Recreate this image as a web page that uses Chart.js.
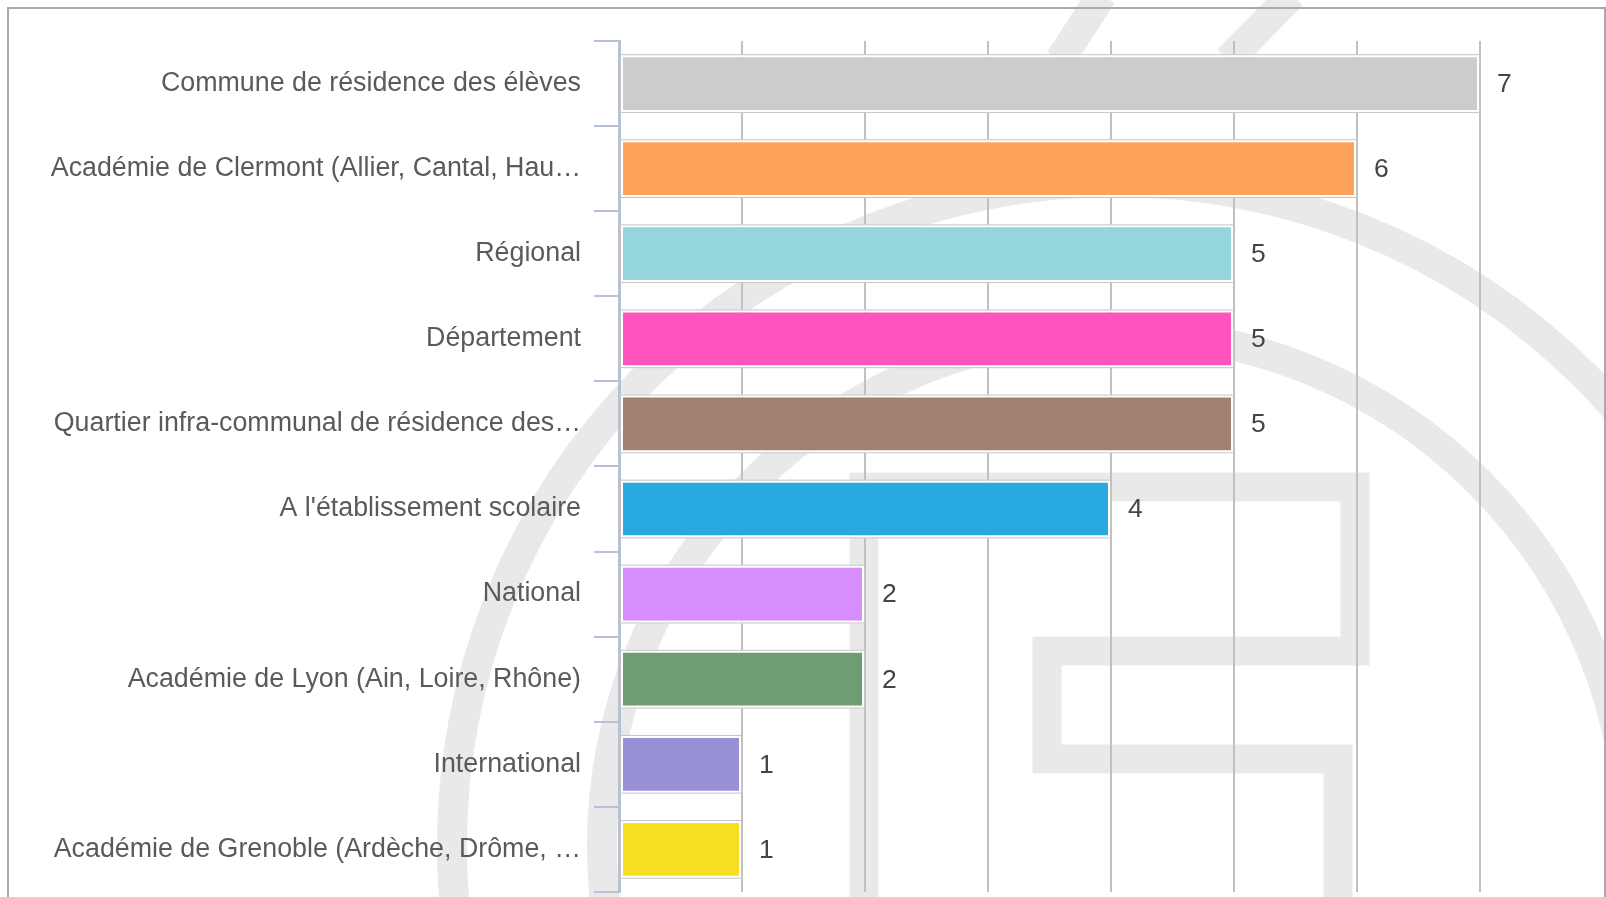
<!DOCTYPE html>
<html lang="fr">
  <head>
    <meta charset="UTF-8" />
    <title>Échelle territoriale</title>
    <script src="https://cdn.jsdelivr.net/npm/chart.js"></script>
    <style>
      body {
        margin: 0;
        background: #fff;
        overflow: hidden;
      }
      #wrap {
        width: 1606px;
        height: 921px;
      }
    </style>
  </head>
  <body>
    <div id="wrap"><canvas id="chart"></canvas></div>
    <script>
      const categories = [
        "Commune de résidence des élèves",
        "Académie de Clermont (Allier, Cantal, Hau…",
        "Régional",
        "Département",
        "Quartier infra-communal de résidence des…",
        "A l'établissement scolaire",
        "National",
        "Académie de Lyon (Ain, Loire, Rhône)",
        "International",
        "Académie de Grenoble (Ardèche, Drôme, …",
      ];
      const values = [7, 6, 5, 5, 5, 4, 2, 2, 1, 1];
      const barColors = [
        "#cccccc", "#ffa35c", "#95d5dc", "#ff53be", "#a1806f",
        "#28aae1", "#d68efc", "#6f9d73", "#9790d4", "#f7df22",
      ];
      const xTicks = [0, 1, 2, 3, 4, 5, 6, 7];

      // faint logo in the background + outer frame
      const backdrop = {
        id: "backdrop",
        beforeDraw(chart) {
          const c = chart.ctx;
          c.save();
          c.strokeStyle = "#e9e9e9";
          c.lineWidth = 30;
          c.beginPath();
          c.arc(1116, 846, 664, 0, Math.PI * 2);
          c.stroke();
          c.beginPath();
          c.arc(1116, 846, 514, 0, Math.PI * 2);
          c.stroke();
          c.lineWidth = 29;
          c.lineJoin = "miter";
          c.beginPath();
          c.moveTo(864, 930);
          c.lineTo(864, 487);
          c.lineTo(1355, 487);
          c.lineTo(1355, 651);
          c.lineTo(1047, 651);
          c.lineTo(1047, 759);
          c.lineTo(1338, 759);
          c.lineTo(1338, 930);
          c.stroke();
          c.lineWidth = 30;
          c.beginPath();
          c.moveTo(1060, 60);
          c.lineTo(1102, -5);
          c.moveTo(1228, 60);
          c.lineTo(1292, -5);
          c.stroke();
          c.strokeStyle = "#aaaaaa";
          c.lineWidth = 2;
          c.strokeRect(8, 8, 1597, 1000);
          c.restore();
        },
      };

      // thin grey outline round each bar, then the value at its end
      const barDecor = {
        id: "barDecor",
        afterDatasetsDraw(chart) {
          const c = chart.ctx;
          const meta = chart.getDatasetMeta(0);
          c.save();
          meta.data.forEach((bar, i) => {
            const p = bar.getProps(["x", "y", "base", "height"], true);
            c.strokeStyle = "#c4c4c4";
            c.lineWidth = 1;
            c.strokeRect(
              Math.min(p.base, p.x) + 0.5,
              p.y - p.height / 2 + 0.5,
              Math.abs(p.x - p.base) - 1,
              p.height - 1
            );
            c.fillStyle = "#444";
            c.font = "26.5px 'Liberation Sans', Arial, sans-serif";
            c.textAlign = "left";
            c.textBaseline = "middle";
            c.fillText(String(values[i]), p.x + 17, p.y + 1);
          });
          c.restore();
        },
      };

      new Chart(document.getElementById("chart"), {
        type: "bar",
        data: {
          labels: categories,
          datasets: [
            {
              data: values,
              backgroundColor: barColors,
              borderColor: "#ffffff",
              borderWidth: 3,
              borderSkipped: false,
              categoryPercentage: 1,
              barPercentage: 0.69,
            },
          ],
        },
        options: {
          indexAxis: "y",
          responsive: true,
          maintainAspectRatio: false,
          animation: false,
          layout: { padding: { top: 41, right: 126, bottom: 5, left: 0 } },
          plugins: {
            legend: { display: false },
            tooltip: { enabled: false },
          },
          scales: {
            x: {
              min: 0,
              max: 7,
              afterBuildTicks(scale) {
                scale.ticks = xTicks.map((v) => ({ value: v }));
              },
              afterFit(scale) {
                scale.height = 0;
              },
              ticks: { display: false },
              grid: { color: "#c0c0c0", lineWidth: 2, drawTicks: false },
              border: { display: false },
            },
            y: {
              afterFit(scale) {
                scale.width = 619;
              },
              ticks: {
                autoSkip: false,
                padding: 13,
                color: "#5a5a5a",
                font: { family: "'Liberation Sans', Arial, sans-serif", size: 26.8 },
              },
              grid: {
                offset: true,
                drawOnChartArea: false,
                tickLength: 25,
                color: "#b4c2d4",
                lineWidth: 2,
              },
              border: { color: "#b4c2d4", width: 3 },
            },
          },
        },
        plugins: [backdrop, barDecor],
      });
    </script>
  </body>
</html>
